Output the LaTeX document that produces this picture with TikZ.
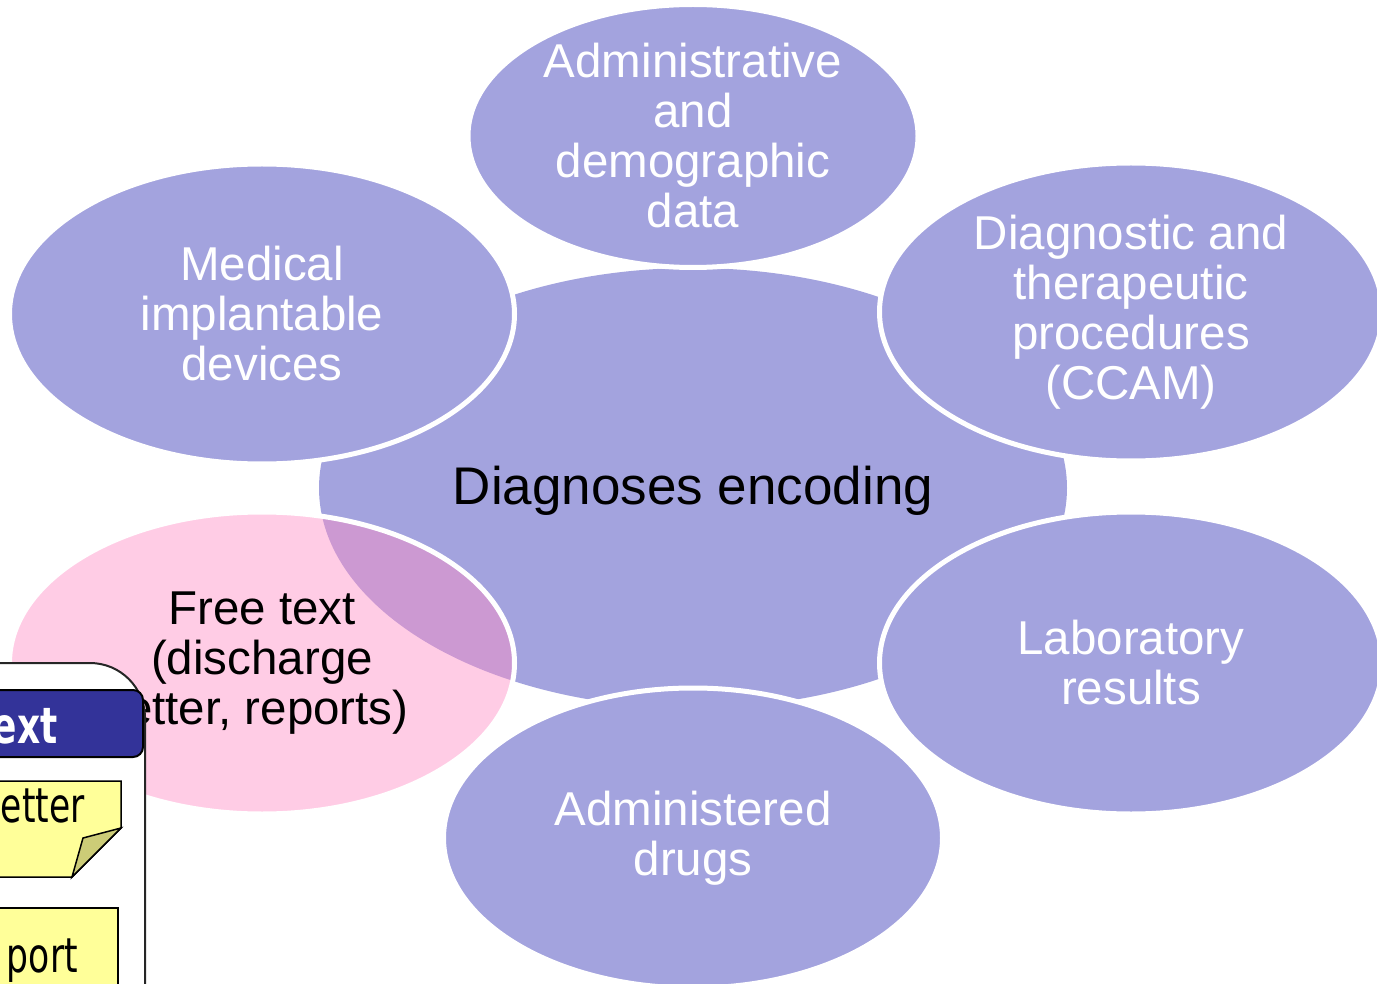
\documentclass[tikz,border=0pt]{standalone}
\usepackage{fontspec}
\setmainfont{Liberation Sans}
\newfontfamily\notefont[FakeStretch=0.72]{DejaVu Sans}
\usetikzlibrary{shapes.geometric}
\definecolor{bubblepurple}{RGB}{163,163,222}
\definecolor{freepink}{RGB}{255,142,197}
\definecolor{headerblue}{RGB}{51,51,153}
\definecolor{noteyellow}{RGB}{255,255,153}
\definecolor{notefold}{RGB}{204,204,119}

\tikzset{
  bubble/.style={ellipse, fill=bubblepurple, draw=white, line width=5pt, inner sep=0pt},
  bubbletext/.style={text=white, align=center, inner sep=0pt, font=\fontsize{47.5}{50}\selectfont},
  note/.style={fill=noteyellow, draw=black, line width=1.5pt},
  notetext/.style={anchor=base east, inner sep=0pt, font=\notefont\fontsize{48}{50}\selectfont}
}

\begin{document}
\begin{tikzpicture}[x=1pt, y=-1pt]
        \clip (0,0) rectangle (1377,984);

        % Central ellipse
        \node[ellipse, fill=bubblepurple, inner sep=0pt, minimum width=748pt, minimum height=440pt] (centre) at (693,488) {};
        \node[font=\fontsize{53}{56}\selectfont, inner sep=0pt] (centre-txt) at ([yshift=-3pt]centre) {Diagnoses encoding};

        % Data sources
        \foreach \name/\x/\y/\w/\h/\txt in {admin/693/136/450/263/{Administrative\\and\\demographic\\data}, med/262/314/505/300/{Medical\\implantable\\devices}, diag/1131/312/503/298/{Diagnostic and\\therapeutic\\procedures\\(CCAM)}, lab/1131/663/503/302/{Laboratory\\results}, drugs/693/838/499/300/{Administered\\drugs}} {
            \node[bubble, minimum width=\w pt, minimum height=\h pt] (\name) at (\x,\y) {};
            \node[bubbletext] (\name-txt) at (\name) {\txt};
        }

        % Free text, see-through
        \node[bubble, fill=freepink, fill opacity=0.45, draw opacity=1, minimum width=505pt, minimum height=302pt] (free) at (262,663) {};
        \node[bubbletext, text=black] (free-txt) at (free) {Free text\\(discharge\\letter, reports)};

        % Document box at the left edge
        \draw[fill=white, draw=black!85, line width=2pt] (-20,1010) -- (-20,663) -- (90,663) arc[start angle=90, end angle=0, radius=55pt] -- (145,1010);
        \draw[fill=headerblue, draw=black, line width=2pt, rounded corners=10pt] (-40,690) rectangle (143,757);
        \node[notetext, text=white, font=\notefont\bfseries\fontsize{50}{52}\selectfont] (header-txt) at (58,743) {ext};

        % Notes
        \draw[note] (-20,781) -- (121,781) -- (121,828) -- (72,877) -- (-20,877) -- cycle;
        \draw[note, fill=notefold] (121,828) -- (83,838) -- (72,877) -- cycle;
        \node[notetext] (letter-txt) at (85,822) {etter};
        \draw[note] (-20,1010) -- (-20,908) -- (118,908) -- (118,1010);
        \node[notetext] (report-txt) at (78,972) {port};
\end{tikzpicture}
\end{document}
